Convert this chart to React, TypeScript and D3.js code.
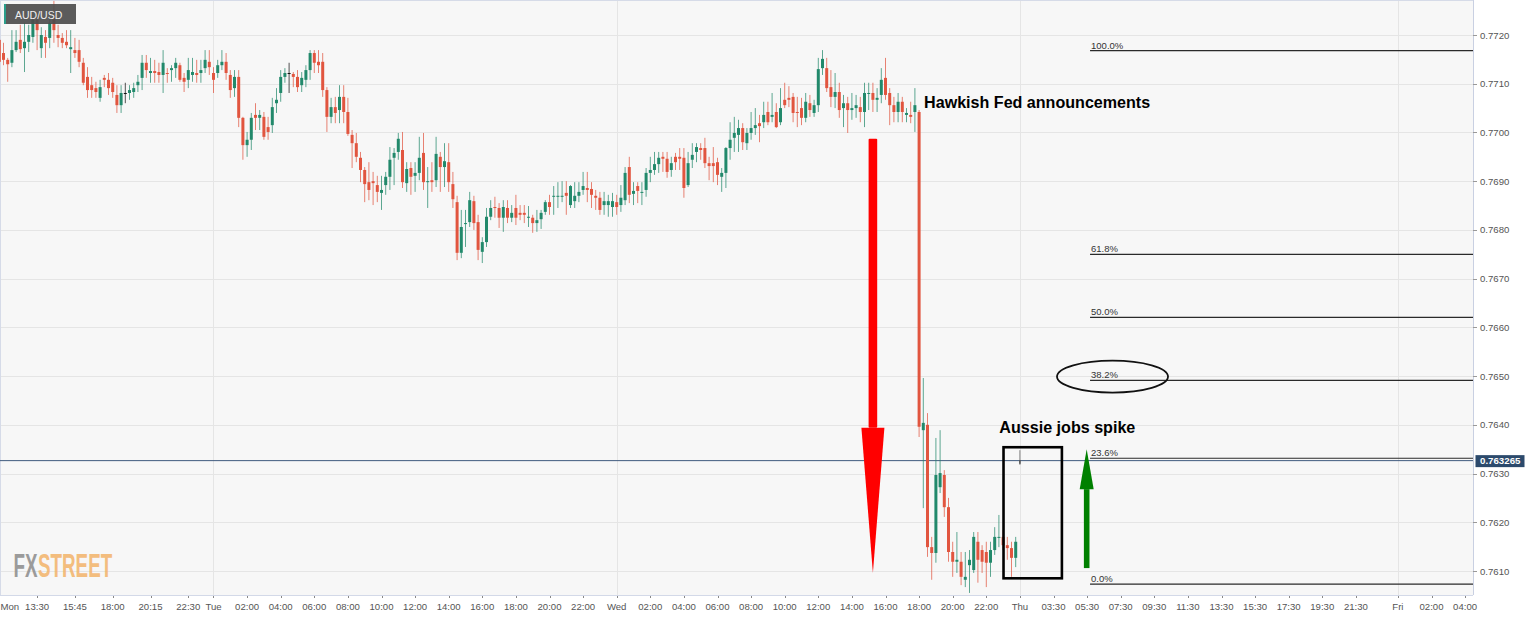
import React from 'react';
import * as d3 from 'd3';

// 15-minute AUD/USD candles, Mon 11:15 .. Thu 00:00
const opens = [
77190,77163,77149,77143,77169,77190,77173,77186,77196,77231,77173,77196,77194,77241,77200,77194,77186,77171,77169,77169,
77143,77114,77097,77091,77071,77112,77108,77102,77077,77056,77081,77081,77083,77097,77112,77143,77122,77126,77124,77118,
77122,77128,77132,77138,77112,77108,77118,77122,77122,77132,77145,77122,77122,77138,77145,77118,77091,77114,77030,76974,
76985,77036,77030,77032,77011,77015,77060,77081,77114,77122,77120,77114,77097,77108,77128,77163,77145,77145,77087,77032,
77052,77046,77073,77042,76995,76978,76948,76923,76898,76900,76892,76876,76892,76909,76948,76960,76964,76896,76927,76911,
76917,76958,76898,76902,76902,76950,76929,76939,76894,76857,76753,76812,76816,76859,76816,76755,76775,76827,76847,76845,
76825,76845,76825,76845,76835,76835,76825,76825,76814,76822,76837,76857,76868,76868,76868,76876,76851,76859,76870,76882,
76886,76884,76870,76866,76851,76851,76847,76857,76851,76861,76929,76874,76890,76876,76882,76917,76923,76935,76950,76946,
76923,76950,76950,76948,76892,76944,76960,76968,76968,76937,76937,76939,76909,76917,76968,76989,76995,77009,76978,76999,
77009,77019,77021,77042,77032,77042,77021,77067,77071,77073,77042,77050,77030,77060,77040,77056,77132,77132,77093,77073,
77083,77050,77060,77046,77050,77052,77042,77079,77081,77067,77077,77112,77081,77056,77042,77063,77036,77036,77042,77042,
76389,76400,76149,76137,76272,76297,76231,76139,76119,76119,76082,76112,76102,76160,76143,76139,76117,76143,76168,76170,
76153,76147,76127,76320
].map(v => v / 100000);
const highs = [
77204,77184,77153,77210,77210,77221,77225,77221,77247,77245,77216,77210,77237,77270,77221,77204,77210,77210,77194,77190,
77153,77134,77114,77104,77108,77118,77122,77112,77097,77097,77102,77097,77102,77118,77159,77159,77153,77149,77143,77169,
77132,77138,77153,77143,77122,77153,77153,77149,77149,77169,77169,77134,77149,77169,77163,77128,77128,77128,77032,77001,
77040,77060,77046,77042,77032,77071,77091,77128,77132,77143,77124,77128,77124,77138,77169,77169,77169,77163,77093,77071,
77073,77097,77097,77071,77005,76999,76960,76929,76939,76919,76911,76911,76919,76970,76968,76999,77001,76939,76939,76939,
76991,76999,76929,76939,76991,76960,76978,76978,76919,76870,76841,76841,76878,76870,76831,76785,76845,76861,76868,76855,
76861,76861,76851,76872,76851,76851,76849,76831,76841,76841,76861,76872,76890,76898,76900,76900,76892,76898,76898,76919,
76919,76898,76882,76878,76878,76872,76876,76872,76892,76929,76950,76898,76898,76898,76927,76950,76960,76960,76960,76960,
76950,76958,76968,76968,76960,76978,76978,76978,76989,76950,76970,76948,76927,76970,77021,77032,77026,77019,77009,77042,
77050,77036,77063,77063,77081,77060,77091,77102,77095,77081,77073,77071,77081,77077,77067,77153,77169,77153,77128,77122,
77102,77077,77073,77081,77077,77073,77102,77102,77102,77091,77132,77153,77091,77073,77081,77073,77050,77063,77091,77046,
76496,76424,76170,76373,76389,76307,76250,76160,76180,76139,76139,76143,76180,76180,76153,76160,76160,76190,76215,76184,
76170,76160,76170,76348
].map(v => v / 100000);
const lows = [
77134,77138,77104,77134,77165,77163,77124,77165,77184,77169,77153,77153,77173,77184,77175,77173,77173,77122,77153,77134,
77097,77071,77071,77071,77063,77093,77077,77071,77040,77040,77060,77067,77071,77083,77087,77112,77102,77102,77102,77081,
77102,77104,77112,77104,77083,77091,77104,77102,77102,77122,77118,77081,77112,77128,77108,77071,77073,77011,76944,76950,
76964,77005,77005,76985,76985,76999,77040,77063,77102,77081,77093,77083,77083,77093,77108,77122,77122,77073,77001,77019,
77019,77019,77019,76993,76927,76939,76898,76857,76861,76851,76857,76841,76872,76882,76892,76944,76886,76878,76872,76878,
76902,76882,76845,76878,76888,76878,76888,76878,76845,76738,76742,76765,76806,76800,76738,76732,76765,76820,76825,76804,
76796,76814,76816,76810,76820,76814,76806,76794,76796,76802,76831,76831,76831,76845,76857,76831,76845,76845,76857,76872,
76857,76845,76841,76831,76831,76827,76827,76831,76837,76851,76855,76851,76855,76851,76868,76898,76913,76917,76919,76907,
76909,76923,76923,76866,76888,76927,76939,76944,76927,76902,76898,76892,76878,76886,76944,76960,76960,76964,76964,76985,
76995,76980,77009,77015,77021,77009,77015,77050,77052,77021,77011,77015,77021,77032,77032,77042,77118,77083,77052,77050,
77030,77011,76999,77026,77030,77021,77011,77046,77042,77042,77060,77067,77015,77021,77021,77021,77021,77019,77001,76375,
76229,76129,76082,76117,76260,76211,76119,76088,76096,76071,76067,76055,76096,76076,76096,76067,76088,76133,76149,76143,
76123,76088,76108,76318
].map(v => v / 100000);
const closes = [
77145,77149,77140,77169,77186,77171,77186,77200,77231,77210,77200,77184,77225,77210,77194,77184,77179,77175,77163,77145,
77102,77087,77087,77083,77093,77108,77091,77083,77056,77081,77081,77087,77091,77104,77143,77128,77126,77122,77118,77143,
77120,77132,77143,77108,77104,77128,77124,77118,77128,77149,77134,77108,77138,77145,77122,77087,77114,77030,76974,76985,
77030,77030,77036,76991,77001,77052,77067,77114,77122,77122,77114,77093,77112,77128,77163,77143,77138,77087,77032,77052,
77040,77073,77042,76997,76978,76950,76923,76894,76882,76896,76878,76882,76909,76944,76958,76987,76898,76925,76909,76917,
76948,76898,76900,76898,76956,76929,76941,76898,76863,76753,76806,76814,76861,76814,76759,76775,76827,76845,76845,76825,
76847,76825,76835,76825,76831,76831,76827,76814,76820,76835,76857,76847,76870,76870,76870,76870,76890,76870,76878,76890,
76882,76872,76866,76841,76859,76859,76859,76847,76866,76917,76872,76880,76880,76878,76917,76923,76935,76948,76946,76919,
76937,76939,76946,76886,76937,76954,76970,76964,76937,76931,76931,76913,76917,76968,76985,76999,77009,76980,76999,77009,
77015,77013,77036,77021,77036,77011,77050,77056,77067,77040,77040,77030,77063,77046,77056,77130,77151,77091,77073,77083,
77046,77060,77046,77050,77056,77042,77081,77081,77067,77071,77108,77077,77056,77042,77063,77042,77040,77032,77056,76396,
76404,76149,76137,76297,76301,76231,76139,76119,76123,76088,76088,76123,76170,76123,76119,76117,76143,76170,76170,76153,
76147,76127,76160,76327.5
].map(v => v / 100000);

const priceTicks = [0.7610, 0.7620, 0.7630, 0.7640, 0.7650, 0.7660, 0.7670, 0.7680, 0.7690, 0.7700, 0.7710, 0.7720];
const tickLabels = ['Mon', '13:30', '15:45', '18:00', '20:15', '22:30', 'Tue', '02:00', '04:00', '06:00', '08:00', '10:00', '12:00', '14:00', '16:00', '18:00', '20:00', '22:00', 'Wed', '02:00', '04:00', '06:00', '08:00', '10:00', '12:00', '14:00', '16:00', '18:00', '20:00', '22:00', 'Thu', '03:30', '05:30', '07:30', '09:30', '11:30', '13:30', '15:30', '17:30', '19:30', '21:30', 'Fri', '02:00', '04:00'];
const tickSlots = [0, 9, 18, 27, 36, 45, 51, 59, 67, 75, 83, 91, 99, 107, 115, 123, 131, 139, 147, 155, 163, 171, 179, 187, 195, 203, 211, 219, 227, 235, 243, 251, 259, 267, 275, 283, 291, 299, 307, 315, 323, 333, 341, 349];
const dayBreakSlots = [51, 147, 243, 333];
const fibLevels = [1, 0.618, 0.5, 0.382, 0.236, 0];
const fibLabels = ['100.0%', '61.8%', '50.0%', '38.2%', '23.6%', '0.0%'];
const fibHigh = 0.77168;
const fibLow = 0.76073;
const lastPrice = 0.763265;

const GREEN = '#22896b';
const RED = '#e1553f';
const FONT = 'Liberation Sans, Arial, sans-serif';

export default function App() {
  const W = 1536, H = 618;
  const plotRight = 1473, plotBottom = 595;
  const x = d3.scaleLinear().domain([0, 350]).range([-0.7, -0.7 + 350 * 4.2]);
  const y = d3.scaleLinear().domain([0.7610, 0.7720]).range([571, 35]);
  const fy = (lvl: number) => y(fibLow + (fibHigh - fibLow) * lvl);

  const redX = x(208.0);
  const greenX = x(258.9);
  const fibX0 = x(259.7);

  return (
    <svg width={W} height={H} style={{ position: 'absolute', left: 0, top: 0, background: '#fff' }} fontFamily={FONT}>
      <defs>
        <clipPath id="plot"><rect x={0} y={0} width={plotRight} height={plotBottom} /></clipPath>
      </defs>
      <rect x={0} y={0} width={plotRight} height={plotBottom} fill="#f7f7f7" />
      {priceTicks.map((p, i) => (
        <line key={'g' + i} x1={0} x2={plotRight} y1={Math.round(y(p)) + 0.5} y2={Math.round(y(p)) + 0.5} stroke="#e5e5e5" strokeWidth={1} />
      ))}
      {dayBreakSlots.map((s, i) => (
        <line key={'v' + i} x1={Math.round(x(s)) + 0.5} x2={Math.round(x(s)) + 0.5} y1={0} y2={plotBottom} stroke="#e5e5e5" strokeWidth={1} />
      ))}
      <line x1={0} x2={plotRight} y1={0.5} y2={0.5} stroke="#d6dbe8" />
      <line x1={0.5} x2={0.5} y1={0} y2={plotBottom} stroke="#d6dbe8" />
      <line x1={plotRight + 0.5} x2={plotRight + 0.5} y1={0} y2={plotBottom} stroke="#c9d0e2" />
      <line x1={0} x2={plotRight} y1={plotBottom + 0.5} y2={plotBottom + 0.5} stroke="#d3d9e8" />

      {/* FXSTREET watermark, horizontally condensed */}
      <g transform="translate(13.5,577) scale(0.57,1)" fontWeight="bold" fontSize={33} opacity={0.85}>
        <text x={0} y={0} fill="#8c8c8c">FX</text>
        <text x={43} y={0} fill="#f3b36a">STREET</text>
      </g>

      {fibLevels.map((lvl, i) => (
        <g key={'f' + i}>
          <line x1={fibX0} x2={plotRight} y1={fy(lvl)} y2={fy(lvl)} stroke="#2a2a2a" strokeWidth={1.2} />
          <text x={fibX0 + 1} y={fy(lvl) - 2} fontSize={9.5} fill="#333">{fibLabels[i]}</text>
        </g>
      ))}

      <line x1={0} x2={plotRight} y1={y(lastPrice)} y2={y(lastPrice)} stroke="#3f5b7e" strokeWidth={1} />

      <g clipPath="url(#plot)">
        {opens.map((o, i) => {
          const c = closes[i];
          const h = Math.max(highs[i], o, c);
          const l = Math.min(lows[i], o, c);
          const cx = x(i);
          const last = i === opens.length - 1;
          const doji = Math.abs(c - o) < 1e-7;
          const col = last ? '#555' : doji ? '#111' : c > o ? GREEN : RED;
          const top = y(Math.max(o, c));
          const bot = y(Math.min(o, c));
          const bw = last ? 1.5 : 3;
          return (
            <g key={'c' + i}>
              <line x1={cx} x2={cx} y1={y(h)} y2={y(l)} stroke={col} strokeWidth={1} opacity={0.72} />
              <rect x={cx - bw / 2} y={top} width={bw} height={Math.max(1, bot - top)} fill={col} />
            </g>
          );
        })}
      </g>

      <rect x={redX - 4.3} y={y(0.76987)} width={8.6} height={y(0.76394) - y(0.76987)} fill="#ff0000" rx={1} />
      <polygon points={`${redX - 11.5},${y(0.76394)} ${redX + 11.5},${y(0.76394)} ${redX},${y(0.76096)}`} fill="#ff0000" />

      <rect x={greenX - 2.8} y={y(0.76268)} width={5.6} height={y(0.76106) - y(0.76268)} fill="#008000" />
      <polygon points={`${greenX - 7},${y(0.76268)} ${greenX + 7},${y(0.76268)} ${greenX},${y(0.76350)}`} fill="#008000" />

      <rect x={x(239.1)} y={y(0.76354)} width={x(253.0) - x(239.1)} height={y(0.76085) - y(0.76354)} fill="none" stroke="#000" strokeWidth={2.6} />

      <ellipse cx={x(265.05)} cy={y(0.76499)} rx={55.5} ry={16} fill="none" stroke="#111" strokeWidth={1.8} />

      <text x={x(220.2)} y={y(0.77051)} fontSize={16} fontWeight="bold" fill="#000" textLength={226} lengthAdjust="spacingAndGlyphs">Hawkish Fed announcements</text>
      <text x={x(238.1)} y={y(0.76383)} fontSize={16} fontWeight="bold" fill="#000" textLength={136} lengthAdjust="spacingAndGlyphs">Aussie jobs spike</text>

      <rect x={4} y={4} width={72} height={20} fill="#4d4d4d" opacity={0.92} />
      <rect x={4} y={4} width={2} height={20} fill="#2a9d8a" />
      <text x={15} y={18.5} fontSize={10.5} fill="#f0f0f0">AUD/USD</text>

      {priceTicks.map((p, i) => (
        <g key={'y' + i}>
          <line x1={plotRight} x2={plotRight + 4} y1={Math.round(y(p)) + 0.5} y2={Math.round(y(p)) + 0.5} stroke="#999" />
          <text x={1480} y={y(p) + 3.5} fontSize={9.6} fill="#555">{p.toFixed(4)}</text>
        </g>
      ))}
      <rect x={1475.5} y={y(lastPrice) - 5.5} width={49} height={12} fill="#2c4a6c" />
      <text x={1480} y={y(lastPrice) + 3.8} fontSize={9.7} fontWeight="bold" fill="#fff">{lastPrice.toFixed(6)}</text>

      {tickSlots.map((s, i) => (
        <g key={'x' + i}>
          <line x1={Math.round(x(s)) + 0.5} x2={Math.round(x(s)) + 0.5} y1={plotBottom + 1} y2={plotBottom + 3} stroke="#888" />
          <text x={i === 0 ? 0.5 : x(s)} y={610} fontSize={9.6} fill="#555" textAnchor={i === 0 ? 'start' : 'middle'}>{tickLabels[i]}</text>
        </g>
      ))}
    </svg>
  );
}
